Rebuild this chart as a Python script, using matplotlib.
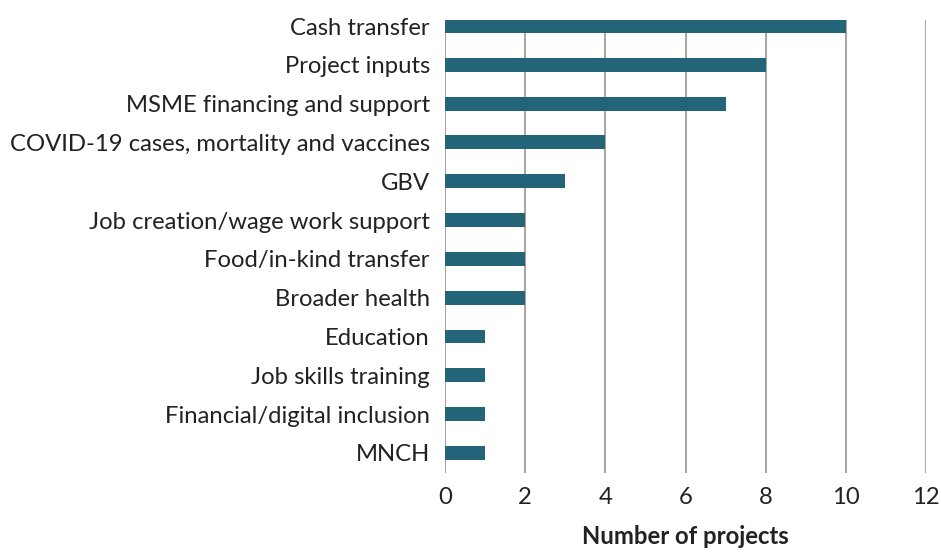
import numpy as np
import matplotlib.pyplot as plt

# Project categories and counts
categories = ["Cash transfer", "Project inputs", "MSME financing and support",
              "COVID-19 cases, mortality and vaccines", "GBV",
              "Job creation/wage work support", "Food/in-kind transfer",
              "Broader health", "Education", "Job skills training",
              "Financial/digital inclusion", "MNCH"]
counts = [10, 8, 7, 4, 3, 2, 2, 2, 1, 1, 1, 1]
xticks = [0, 2, 4, 6, 8, 10, 12]

plt.rcParams['font.family'] = ['Lato', 'DejaVu Sans']

fig = plt.figure(figsize=(9.41, 5.52), dpi=100)
ax = fig.add_axes([0.473, 0.143, 0.511, 0.821])

y = np.arange(len(categories))
ax.barh(y, counts, height=0.36, color='#236479', zorder=3)

ax.set_xlim(0, 12)
ax.set_ylim(11.52, -0.16)
ax.set_xticks(xticks)
ax.set_yticks(y)
ax.set_yticklabels(categories)
ax.tick_params(axis='both', length=0, labelsize=17.2, colors='#222222')
ax.tick_params(axis='x', pad=10)
ax.tick_params(axis='y', pad=11)

for s in ax.spines.values():
    s.set_visible(False)
ax.grid(axis='x', color='#a9a6a4', linewidth=1.5, zorder=0)

ax.set_xlabel('Number of projects', fontsize=17.2, fontweight='bold',
              color='#222222', labelpad=12)

fig.savefig('out.png', dpi=100)
